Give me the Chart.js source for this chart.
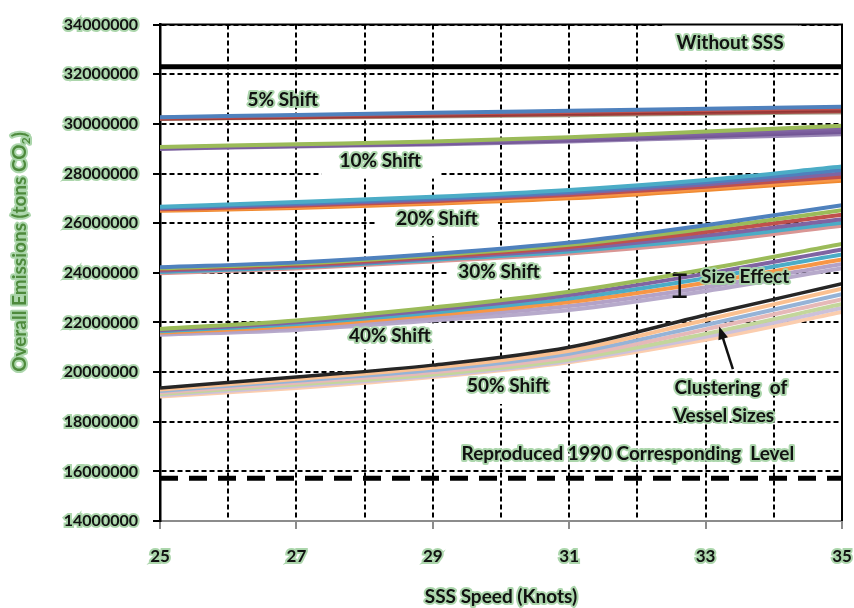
<!DOCTYPE html>
<html>
<head>
<meta charset="utf-8">
<script src="https://cdn.jsdelivr.net/npm/chart.js@4.4.1/dist/chart.umd.min.js"></script>
<style>
html, body { margin: 0; padding: 0; background: #fff; }
</style>
</head>
<body>
<canvas id="myChart" width="854" height="608"></canvas>
<script>
// speeds (knots) and emissions in millions of tons CO2
var speeds = [25, 27, 29, 31, 33, 35];
var withoutSSS = [32.3, 32.3, 32.3, 32.3, 32.3, 32.3];
var level1990 = [15.72, 15.72, 15.72, 15.72, 15.72, 15.72];

var shift5 = [
    [30.27, 30.36, 30.45, 30.53, 30.61, 30.69],
    [30.25, 30.33, 30.41, 30.48, 30.56, 30.63],
    [30.23, 30.30, 30.37, 30.44, 30.51, 30.57],
    [30.21, 30.27, 30.33, 30.39, 30.45, 30.51],
    [30.20, 30.25, 30.30, 30.35, 30.41, 30.46]
];
var shift10 = [
    [29.07, 29.18, 29.29, 29.46, 29.69, 29.92],
    [29.05, 29.15, 29.26, 29.41, 29.62, 29.83],
    [29.03, 29.13, 29.23, 29.37, 29.56, 29.75],
    [29.01, 29.11, 29.20, 29.33, 29.50, 29.67],
    [28.99, 29.09, 29.17, 29.29, 29.44, 29.58]
];
var shift20 = [
    [26.66, 26.85, 27.06, 27.34, 27.74, 28.28],
    [26.63, 26.80, 27.00, 27.27, 27.65, 28.14],
    [26.60, 26.75, 26.94, 27.20, 27.56, 28.00],
    [26.56, 26.70, 26.88, 27.13, 27.47, 27.87],
    [26.53, 26.65, 26.83, 27.06, 27.40, 27.78],
    [26.50, 26.61, 26.78, 27.00, 27.34, 27.71]
];
var shift30 = [
    [24.22, 24.42, 24.76, 25.22, 25.92, 26.72],
    [24.18, 24.37, 24.70, 25.13, 25.78, 26.52],
    [24.13, 24.32, 24.64, 25.04, 25.64, 26.34],
    [24.08, 24.27, 24.58, 24.95, 25.50, 26.16],
    [24.03, 24.22, 24.52, 24.86, 25.37, 26.02],
    [23.98, 24.17, 24.46, 24.78, 25.25, 25.90]
];
var shift40 = [
    [21.74, 22.08, 22.60, 23.24, 24.14, 25.16],
    [21.69, 22.01, 22.50, 23.10, 23.96, 24.94],
    [21.64, 21.94, 22.40, 22.96, 23.78, 24.74],
    [21.59, 21.86, 22.30, 22.82, 23.60, 24.54],
    [21.55, 21.78, 22.19, 22.66, 23.42, 24.36],
    [21.50, 21.70, 22.08, 22.50, 23.26, 24.18]
];
var shift50 = [
    [19.36, 19.80, 20.28, 21.00, 22.30, 23.56],
    [19.30, 19.72, 20.18, 20.86, 22.10, 23.36],
    [19.24, 19.65, 20.08, 20.74, 21.90, 23.14],
    [19.18, 19.57, 19.99, 20.62, 21.72, 22.94],
    [19.12, 19.50, 19.90, 20.51, 21.54, 22.74],
    [19.07, 19.43, 19.85, 20.45, 21.42, 22.58],
    [19.02, 19.36, 19.80, 20.40, 21.30, 22.42]
];

var colors5 = ['#4F81BD', '#C0504D', '#953735', '#A4423F', '#A9A98F'];
var colors10 = ['#9BBB59', '#8064A2', '#7A5C9C', '#735796', '#9A87B6'];
var colors20 = ['#4BACC6', '#4F81BD', '#8064A2', '#C0504D', '#F79646', '#F08A30'];
var colors30 = ['#4F81BD', '#9BBB59', '#C0504D', '#8064A2', '#4BACC6', '#D99694'];
var colors40 = ['#9BBB59', '#8064A2', '#4BACC6', '#F79646', '#B3A2C7', '#B7AACB'];
var colors50 = ['#262626', '#FAC090', '#95B3D7', '#E6B9B8', '#C3D69B', '#CCC1DA', '#FBCDAE'];

var FONT = 'Lato';
var GLOW = 'rgba(168,212,168,0.95)';

function bandSets(lines, colors) {
    return lines.map(function(vals, i) {
        return {
            data: vals.map(function(v, j) { return {x: speeds[j], y: v}; }),
            borderColor: colors[i],
            borderWidth: (colors[i] === '#262626') ? 3.5 : 4,
            pointRadius: 0,
            cubicInterpolationMode: 'monotone',
            fill: false
        };
    });
}

function flatSet(vals, dash) {
    return {
        data: vals.map(function(v, j) { return {x: speeds[j], y: v}; }),
        borderColor: '#000',
        borderWidth: 5,
        borderDash: dash,
        pointRadius: 0,
        fill: false
    };
}

var datasets = [flatSet(withoutSSS, []), flatSet(level1990, [18, 11])]
    .concat(bandSets(shift50, colors50))
    .concat(bandSets(shift40, colors40))
    .concat(bandSets(shift30, colors30))
    .concat(bandSets(shift20, colors20))
    .concat(bandSets(shift10, colors10))
    .concat(bandSets(shift5, colors5));

// text annotations, in data units
var notes = [
    {t: 'Without SSS', x: 33.36, y: 33.28, box: [136, 36]},
    {t: '5% Shift', x: 26.80, y: 30.96},
    {t: '10% Shift', x: 28.23, y: 28.52, box: [118, 36]},
    {t: '20% Shift', x: 29.06, y: 26.16, box: [122, 34]},
    {t: '30% Shift', x: 29.97, y: 24.04, box: [104, 36]},
    {t: '40% Shift', x: 28.37, y: 21.44, box: [106, 26]},
    {t: '50% Shift', x: 30.10, y: 19.44, box: [106, 36]},
    {t: 'Size Effect', x: 33.58, y: 23.84},
    {t: 'Clustering  of', x: 33.37, y: 19.36},
    {t: 'Vessel Sizes', x: 33.27, y: 18.24},
    {t: 'Reproduced 1990 Corresponding  Level', x: 31.86, y: 16.72}
];

function glowText(ctx, txt, x, y, fill) {
    ctx.lineJoin = 'round';
    ctx.strokeStyle = GLOW;
    ctx.lineWidth = 4;
    ctx.strokeText(txt, x, y);
    ctx.fillStyle = fill;
    ctx.fillText(txt, x, y);
}

var notesPlugin = {
    id: 'notes',
    beforeDatasetsDraw: function(chart) {
        var ctx = chart.ctx, xs = chart.scales.x, ys = chart.scales.y;
        ctx.save();
        ctx.fillStyle = '#fff';
        notes.forEach(function(n) {
            if (!n.box) return;
            var px = xs.getPixelForValue(n.x), py = ys.getPixelForValue(n.y);
            ctx.fillRect(px - n.box[0] / 2, py - n.box[1] / 2, n.box[0], n.box[1]);
        });
        ctx.restore();
    },
    afterDatasetsDraw: function(chart) {
        var ctx = chart.ctx, xs = chart.scales.x, ys = chart.scales.y, a = chart.chartArea;
        ctx.save();
        // top and right frame
        ctx.strokeStyle = '#000';
        ctx.lineWidth = 2;
        ctx.beginPath();
        ctx.moveTo(a.left, a.top);
        ctx.lineTo(a.right, a.top);
        ctx.lineTo(a.right, a.bottom);
        ctx.stroke();

        ctx.font = 'bold 19px ' + FONT;
        ctx.textAlign = 'center';
        ctx.textBaseline = 'middle';
        notes.forEach(function(n) {
            glowText(ctx, n.t, xs.getPixelForValue(n.x), ys.getPixelForValue(n.y), '#111');
        });

        // size effect bracket
        var bx = xs.getPixelForValue(32.62), b1 = ys.getPixelForValue(23.92), b2 = ys.getPixelForValue(23.04);
        ctx.strokeStyle = '#111';
        ctx.lineWidth = 2.5;
        ctx.beginPath();
        ctx.moveTo(bx, b1); ctx.lineTo(bx, b2);
        ctx.moveTo(bx - 7, b1); ctx.lineTo(bx + 7, b1);
        ctx.moveTo(bx - 7, b2); ctx.lineTo(bx + 7, b2);
        ctx.stroke();

        // arrow to the 50% cluster
        var x1 = xs.getPixelForValue(33.40), y1 = ys.getPixelForValue(20.12);
        var x2 = xs.getPixelForValue(33.20), y2 = ys.getPixelForValue(21.84);
        var ang = Math.atan2(y2 - y1, x2 - x1);
        ctx.beginPath();
        ctx.moveTo(x1, y1);
        ctx.lineTo(x2 - 8 * Math.cos(ang), y2 - 8 * Math.sin(ang));
        ctx.stroke();
        ctx.fillStyle = '#111';
        ctx.beginPath();
        ctx.moveTo(x2, y2);
        ctx.lineTo(x2 - 13 * Math.cos(ang) + 5 * Math.sin(ang), y2 - 13 * Math.sin(ang) - 5 * Math.cos(ang));
        ctx.lineTo(x2 - 13 * Math.cos(ang) - 5 * Math.sin(ang), y2 - 13 * Math.sin(ang) + 5 * Math.cos(ang));
        ctx.closePath();
        ctx.fill();
        ctx.restore();
    },
    afterDraw: function(chart) {
        var ctx = chart.ctx, a = chart.chartArea;
        ctx.save();
        ctx.font = 'bold 19px ' + FONT;
        ctx.textAlign = 'center';
        ctx.textBaseline = 'middle';
        glowText(ctx, 'SSS Speed (Knots)', (a.left + a.right) / 2, 597, '#111');

        // y title with subscript
        ctx.translate(20, 252);
        ctx.rotate(-Math.PI / 2);
        var main = 'Overall Emissions (tons CO';
        var wMain = ctx.measureText(main).width;
        ctx.font = 'bold 12px ' + FONT;
        var wSub = ctx.measureText('2').width;
        ctx.font = 'bold 19px ' + FONT;
        var wEnd = ctx.measureText(')').width;
        var start = -(wMain + wSub + wEnd) / 2;
        ctx.textAlign = 'left';
        glowText(ctx, main, start, 0, '#4E8A3C');
        ctx.font = 'bold 12px ' + FONT;
        glowText(ctx, '2', start + wMain, 6, '#4E8A3C');
        ctx.font = 'bold 19px ' + FONT;
        glowText(ctx, ')', start + wMain + wSub, 0, '#4E8A3C');
        ctx.restore();
    }
};

var config = {
    type: 'line',
    data: { datasets: datasets },
    options: {
        responsive: false,
        animation: false,
        events: [],
        layout: { padding: { top: 21, right: 12, left: 0, bottom: 0 } },
        plugins: { legend: { display: false }, tooltip: { enabled: false } },
        scales: {
            x: {
                type: 'linear',
                min: 25,
                max: 35,
                afterFit: function(s) {
                    s.height = 87;
                    s.paddingLeft = 0;
                    s.paddingRight = 0;
                },
                ticks: {
                    stepSize: 1,
                    padding: 17,
                    color: '#111',
                    font: { family: FONT, size: 17, weight: 'bold' },
                    textStrokeColor: GLOW,
                    textStrokeWidth: 4,
                    maxRotation: 0,
                    callback: function(v) { return (v - 25) % 2 === 0 ? String(v) : ''; }
                },
                grid: {
                    color: '#000',
                    lineWidth: 2,
                    tickLength: 8,
                    tickWidth: 2,
                    tickColor: function(c) {
                        return (c.tick && (c.tick.value - 25) % 2 === 0) ? '#8c8c8c' : 'rgba(0,0,0,0)';
                    }
                },
                border: { color: '#8c8c8c', width: 2, dash: [5, 3] }
            },
            y: {
                min: 14,
                max: 34,
                afterFit: function(s) { s.width = 160; },
                ticks: {
                    stepSize: 2,
                    padding: 15,
                    color: '#111',
                    font: { family: FONT, size: 16, weight: 'bold' },
                    textStrokeColor: GLOW,
                    textStrokeWidth: 4,
                    callback: function(v) { return String(v * 1000000); }
                },
                grid: {
                    color: '#000',
                    lineWidth: 2,
                    tickLength: 7,
                    tickWidth: 2,
                    tickColor: '#000'
                },
                border: { color: '#000', width: 2.5, dash: [5, 3] }
            }
        }
    },
    plugins: [notesPlugin]
};

var myChart = new Chart(document.getElementById('myChart'), config);
</script>
</body>
</html>
